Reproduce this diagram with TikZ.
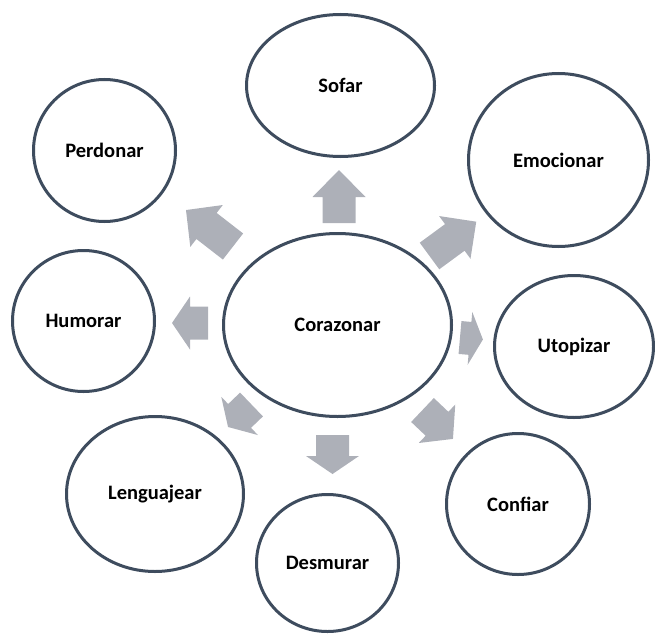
\documentclass[tikz,border=0pt]{standalone}
\usepackage{fontspec}
\setmainfont{Carlito}
\usetikzlibrary{shapes.geometric}
\definecolor{rimcol}{RGB}{62,76,94}
\definecolor{arrowcol}{RGB}{173,176,184}
\tikzset{
  bub/.style={ellipse, draw=rimcol, line width=3pt, fill=white, inner sep=0pt,
    font=\fontsize{20.5}{24}\selectfont\bfseries, text=black},
  blockfill/.style={fill=arrowcol, draw=none}
}
% #1,#2 tail centre; #3 visual angle; #4 length; #5 head length
\newcommand\blockarrow[5]{%
  \fill[blockfill, shift={(#1,#2)}, rotate=#3]
    (0,-16.5) -- ({#4-#5},-16.5) -- ({#4-#5},-26.5) -- (#4,0)
    -- ({#4-#5},26.5) -- ({#4-#5},16.5) -- (0,16.5) -- cycle;}
\begin{document}
\begin{tikzpicture}[x=1pt,y=-1pt]
\useasboundingbox (0,0) rectangle (655,634);
\node[bub, minimum width=228pt, minimum height=183pt] (cor) at (337.5,325) {Corazonar};
\node[bub, minimum width=188pt, minimum height=142pt] (sof) at (340.5,85.5) {Sofar};
\node[bub, minimum width=142pt, minimum height=142pt] (per) at (104.5,150.5) {Perdonar};
\node[bub, minimum width=142pt, minimum height=141pt] (hum) at (83.5,321) {Humorar};
\node[bub, minimum width=180pt, minimum height=173pt] (emo) at (558.5,160) {Emocionar};
\node[bub, minimum width=159pt, minimum height=142pt] (uto) at (574,346.5) {Utopizar};
\node[bub, minimum width=177pt, minimum height=155pt] (len) at (155,494) {Lenguajear};
\node[bub, minimum width=142pt, minimum height=137pt] (des) at (327.5,563) {Desmurar};
\node[bub, minimum width=143pt, minimum height=141pt] (con) at (518,504) {Confiar};
\blockarrow{339}{223}{90}{53}{27}
\blockarrow{233}{246.5}{142.2}{59.5}{26}
\blockarrow{208}{323}{180}{36}{18}
\blockarrow{251.5}{404.5}{223.8}{32.5}{16}
\blockarrow{332.5}{435}{270}{39}{18}
\blockarrow{422.5}{410}{316.5}{42}{22}
\blockarrow{460}{337.5}{-5}{23}{13}
\blockarrow{429.5}{256}{36.3}{58}{26.6}
\end{tikzpicture}
\end{document}
